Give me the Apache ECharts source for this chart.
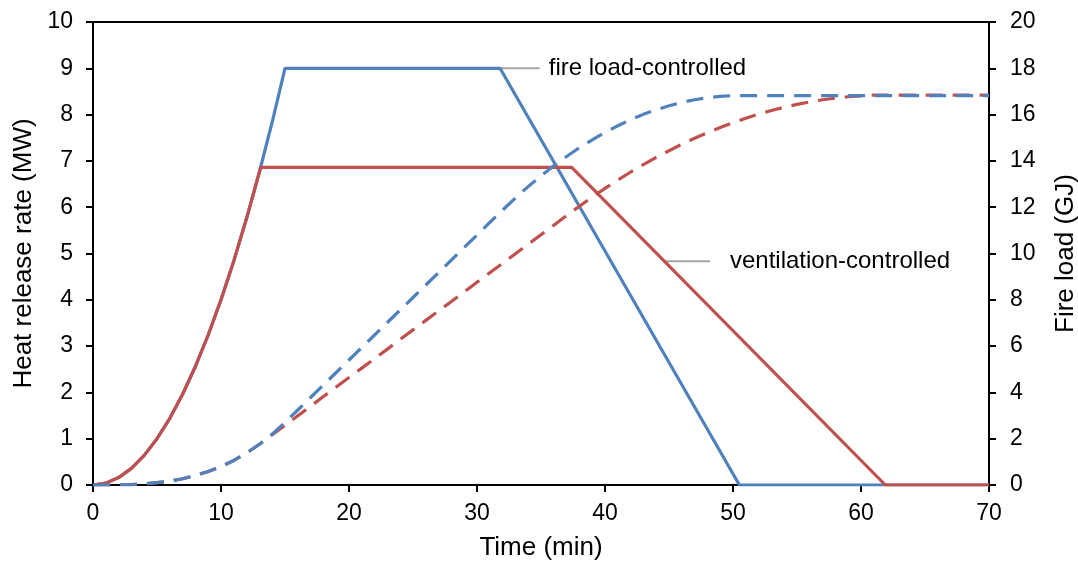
<!DOCTYPE html>
<html>
<head>
<meta charset="utf-8">
<script src="https://cdn.jsdelivr.net/npm/echarts@6/dist/echarts.min.js"></script>
<style>
html,body{margin:0;padding:0;background:#fff;}
#chart{width:1078px;height:565px;}
</style>
</head>
<body>
<div id="chart"></div>
<script>
// ---- Data (time in min) ----
const xTicks = [0, 10, 20, 30, 40, 50, 60, 70];
const hrrTicks = [0, 1, 2, 3, 4, 5, 6, 7, 8, 9, 10];
const loadTicks = [0, 2, 4, 6, 8, 10, 12, 14, 16, 18, 20];

// Heat release rate (MW), fire load-controlled
const hrrFireLoad = [[0,0],[1,0.04],[2,0.16],[3,0.36],[4,0.64],[5,1],[6,1.44],[7,1.96],[8,2.56],[9,3.24],[10,4],[11,4.84],[12,5.76],[13,6.76],[14,7.84],[15,9],[31.8,9],[50.5,0],[70,0]];
// Heat release rate (MW), ventilation-controlled
const hrrVentilation = [[0,0],[1,0.04],[2,0.16],[3,0.36],[4,0.64],[5,1],[6,1.44],[7,1.96],[8,2.56],[9,3.24],[10,4],[11,4.84],[12,5.76],[13,6.76],[13.1,6.86],[37.4,6.86],[61.9,0],[70,0]];
// Cumulative fire load (GJ), fire load-controlled
const energyFireLoad = [[0,0],[1,0],[2,0.01],[3,0.02],[4,0.05],[5,0.1],[6,0.17],[7,0.27],[8,0.41],[9,0.58],[10,0.8],[11,1.06],[12,1.38],[13,1.76],[14,2.2],[15,2.7],[16,3.24],[17,3.78],[18,4.32],[19,4.86],[20,5.4],[21,5.94],[22,6.48],[23,7.02],[24,7.56],[25,8.1],[26,8.64],[27,9.18],[28,9.72],[29,10.26],[30,10.8],[31,11.34],[31.8,11.77],[33,12.4],[34,12.89],[35,13.35],[36,13.79],[37,14.19],[38,14.57],[39,14.91],[40,15.23],[41,15.52],[42,15.78],[43,16.01],[44,16.21],[45,16.38],[46,16.53],[47,16.64],[48,16.73],[49,16.79],[50,16.82],[50.5,16.82],[70,16.82]];
// Cumulative fire load (GJ), ventilation-controlled
const energyVentilation = [[0,0],[1,0],[2,0.01],[3,0.02],[4,0.05],[5,0.1],[6,0.17],[7,0.27],[8,0.41],[9,0.58],[10,0.8],[11,1.06],[12,1.38],[13,1.76],[13.1,1.8],[14,2.17],[15,2.58],[16,2.99],[17,3.4],[18,3.82],[19,4.23],[20,4.64],[21,5.05],[22,5.46],[23,5.87],[24,6.29],[25,6.7],[26,7.11],[27,7.52],[28,7.93],[29,8.34],[30,8.76],[31,9.17],[32,9.58],[33,9.99],[34,10.4],[35,10.81],[36,11.22],[37,11.64],[37.4,11.8],[38,12.04],[39,12.44],[40,12.81],[41,13.17],[42,13.52],[43,13.84],[44,14.15],[45,14.44],[46,14.72],[47,14.98],[48,15.22],[49,15.44],[50,15.65],[51,15.84],[52,16.02],[53,16.18],[54,16.32],[55,16.44],[56,16.55],[57,16.64],[58,16.71],[59,16.77],[60,16.81],[61,16.84],[61.9,16.84],[70,16.84]];

// Annotation labels and leader lines (data coords)
const annotationTexts = ['fire load-controlled', 'ventilation-controlled'];
const leaderFireLoad = [[31.8, 9], [34.9, 9]];
const leaderVentilation = [[44.6, 4.83], [48.2, 4.83]];

const FONT = '"Liberation Sans", Arial, sans-serif';
const BLUE = '#4F81BD', RED = '#C0504D', GREY = '#A6A6A6';
const TICK_FS = 23, TITLE_FS = 26, NOTE_FS = 24;

const chart = echarts.init(document.getElementById('chart'));
const axisCommon = {
  type: 'value',
  axisLine: { show: true, onZero: false, lineStyle: { color: '#000', width: 2 } },
  axisTick: { show: true, inside: false, length: 7, lineStyle: { color: '#000', width: 2 } },
  splitLine: { show: false },
  axisLabel: { color: '#000', fontSize: TICK_FS, fontFamily: FONT },
  nameTextStyle: { color: '#000', fontSize: TITLE_FS, fontFamily: FONT },
  nameLocation: 'middle'
};
chart.setOption({
  animation: false,
  backgroundColor: '#fff',
  grid: { left: 93, right: 89, top: 22, bottom: 80, outerBoundsMode: 'none', containLabel: false,
          show: true, borderColor: '#000', borderWidth: 2 },
  xAxis: Object.assign({}, axisCommon, {
    min: xTicks[0], max: xTicks[xTicks.length - 1], interval: 10,
    name: 'Time (min)', nameGap: 50,
    axisLabel: Object.assign({}, axisCommon.axisLabel, { margin: 17 })
  }),
  yAxis: [
    Object.assign({}, axisCommon, {
      min: hrrTicks[0], max: hrrTicks[hrrTicks.length - 1], interval: 1,
      name: 'Heat release rate (MW)', nameGap: 51, nameRotate: 90,
      position: 'left',
      axisLabel: Object.assign({}, axisCommon.axisLabel, { margin: 20 })
    }),
    Object.assign({}, axisCommon, {
      min: loadTicks[0], max: loadTicks[loadTicks.length - 1], interval: 2,
      name: 'Fire load (GJ)', nameGap: 64, nameRotate: 90,
      position: 'right',
      axisLabel: Object.assign({}, axisCommon.axisLabel, { margin: 21 })
    })
  ],
  series: [
    { type: 'line', data: hrrFireLoad, yAxisIndex: 0, symbol: 'none', lineStyle: { color: BLUE, width: 3.2 }, z: 2 },
    { type: 'line', data: hrrVentilation, yAxisIndex: 0, symbol: 'none', lineStyle: { color: RED, width: 3.2 }, z: 3 },
    { type: 'line', data: energyVentilation, yAxisIndex: 1, symbol: 'none', lineStyle: { color: RED, width: 3.2, type: [17, 10] }, z: 4 },
    { type: 'line', data: energyFireLoad, yAxisIndex: 1, symbol: 'none', lineStyle: { color: BLUE, width: 3.2, type: [17, 10] }, z: 5 },
    { type: 'line', data: leaderFireLoad, yAxisIndex: 0, symbol: 'none', lineStyle: { color: GREY, width: 2 }, z: 1,
      endLabel: { show: true, formatter: annotationTexts[0], distance: 9, color: '#000', fontSize: NOTE_FS, fontFamily: FONT } },
    { type: 'line', data: leaderVentilation, yAxisIndex: 0, symbol: 'none', lineStyle: { color: GREY, width: 2 }, z: 1,
      endLabel: { show: true, formatter: annotationTexts[1], distance: 20, color: '#000', fontSize: NOTE_FS, fontFamily: FONT } }
  ]
});
</script>
</body>
</html>
